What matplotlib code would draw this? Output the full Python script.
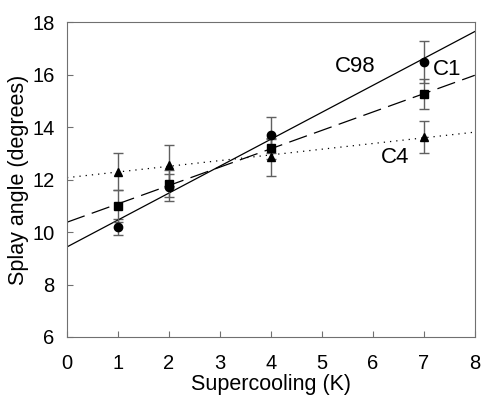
import numpy as np
import matplotlib.pyplot as plt

plt.rcParams['font.family'] = ['Liberation Sans', 'DejaVu Sans']

# Daten
supercooling = [1, 2, 4, 7]
c98 = [10.2, 11.7, 13.7, 16.5]
c98_err = [0.3, 0.5, 0.7, 0.8]
c1 = [11.0, 11.85, 13.2, 15.25]
c1_err = [0.6, 0.5, 0.4, 0.57]
c4 = [12.3, 12.55, 12.85, 13.63]
c4_err = [0.7, 0.78, 0.7, 0.6]

fig = plt.figure(figsize=(4.82, 3.96), dpi=100)
ax = fig.add_axes([0.139, 0.149, 0.846, 0.795])

xs = np.array([0, 8])
series = [
    (c98, c98_err, 'o', '-', 'C98'),
    (c1, c1_err, 's', (0, (15, 6)), 'C1'),
    (c4, c4_err, '^', (0, (1, 4)), 'C4'),
]
for y, err, marker, ls, name in series:
    ax.errorbar(supercooling, y, yerr=err, fmt='none', ecolor='#606060',
                elinewidth=1, capsize=3.5, capthick=1, zorder=2)
    ax.plot(supercooling, y, marker, color='black', markersize=6, zorder=3)
    # lineare Regression
    slope, icpt = np.polyfit(supercooling, y, 1)
    ax.plot(xs, slope * xs + icpt, color='black', linestyle=ls,
            linewidth=0.9, zorder=2)

ax.text(5.25, 16.3, 'C98', fontsize=16, va='center')
ax.text(7.17, 16.2, 'C1', fontsize=16, va='center')
ax.text(6.15, 12.85, 'C4', fontsize=16, va='center')

ax.set_xlim(0, 8)
ax.set_ylim(6, 18)
ax.set_xticks(range(0, 9))
ax.set_yticks(range(6, 19, 2))
ax.tick_params(direction='in', length=4, labelsize=14.5, color='#707070')
ax.tick_params(axis='x', pad=12)
ax.tick_params(axis='y', pad=9)
for sp in ax.spines.values():
    sp.set_color('#707070')
ax.set_xlabel('Supercooling (K)', fontsize=15.5, labelpad=1)
ax.set_ylabel('Splay angle (degrees)', fontsize=15.5, labelpad=2)

fig.savefig('out.png', dpi=100)
